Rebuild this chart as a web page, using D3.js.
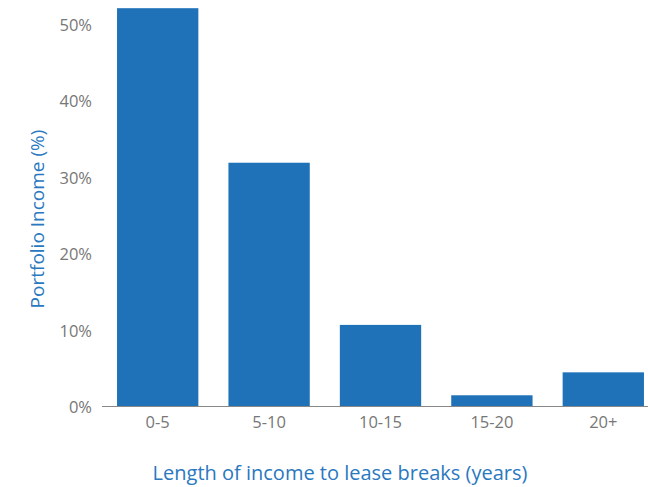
<!DOCTYPE html>
<html>
<head>
<meta charset="utf-8">
<script src="https://cdn.jsdelivr.net/npm/d3@7"></script>
<style>
  body { margin: 0; background: #fff; }
  svg { display: block; font-family: "Open Sans", sans-serif; }
</style>
</head>
<body>
<svg id="chart" width="648" height="487"></svg>
<script>
// data
const categories = ["0-5", "5-10", "10-15", "15-20", "20+"];
const values = [52.0, 31.8, 10.6, 1.4, 4.4];
const yTicks = [0, 10, 20, 30, 40, 50];

const barColor = "#1f71b8";
const titleColor = "#2a78c0";
const tickColor = "#777";
const font = "'Open Sans', sans-serif";

const svg = d3.select("#chart");

const x = d3.scaleBand()
  .domain(categories)
  .range([102, 659])
  .paddingInner(0.27)
  .paddingOuter(0.135);

const y = d3.scaleLinear()
  .domain([0, 50])
  .range([406, 23.5]);

svg.append("g")
  .selectAll("rect")
  .data(values)
  .enter().append("rect")
  .attr("x", (d, i) => x(categories[i]))
  .attr("y", d => y(d))
  .attr("width", x.bandwidth())
  .attr("height", d => y(0) - y(d))
  .attr("fill", barColor);

// y axis, labels only
const yAxis = svg.append("g")
  .attr("transform", "translate(102,0)")
  .call(d3.axisLeft(y).tickValues(yTicks).tickFormat(d => d + "%").tickSize(0).tickPadding(10))
  .attr("font-family", font);
yAxis.select(".domain").remove();
yAxis.selectAll("text")
  .attr("fill", tickColor)
  .style("font-size", "16.5px")
  .attr("dy", "0.4em");

// x axis
const xAxis = svg.append("g")
  .attr("transform", "translate(0,406)")
  .call(d3.axisBottom(x).tickSize(0).tickPadding(10))
  .attr("font-family", font);
xAxis.select(".domain").remove();
xAxis.selectAll("text")
  .attr("fill", tickColor)
  .style("font-size", "16.5px")
  .attr("dy", "0.75em");

svg.append("line")
  .attr("x1", 102).attr("x2", 648)
  .attr("y1", 406.5).attr("y2", 406.5)
  .attr("stroke", "#888")
  .attr("stroke-width", 1.2);

svg.append("text")
  .attr("transform", "translate(44,219) rotate(-90)")
  .attr("text-anchor", "middle")
  .attr("fill", titleColor)
  .style("font-size", "19px")
  .text("Portfolio Income (%)");

svg.append("text")
  .attr("x", 340)
  .attr("y", 480)
  .attr("text-anchor", "middle")
  .attr("fill", titleColor)
  .style("font-size", "20px")
  .text("Length of income to lease breaks (years)");
</script>
</body>
</html>
